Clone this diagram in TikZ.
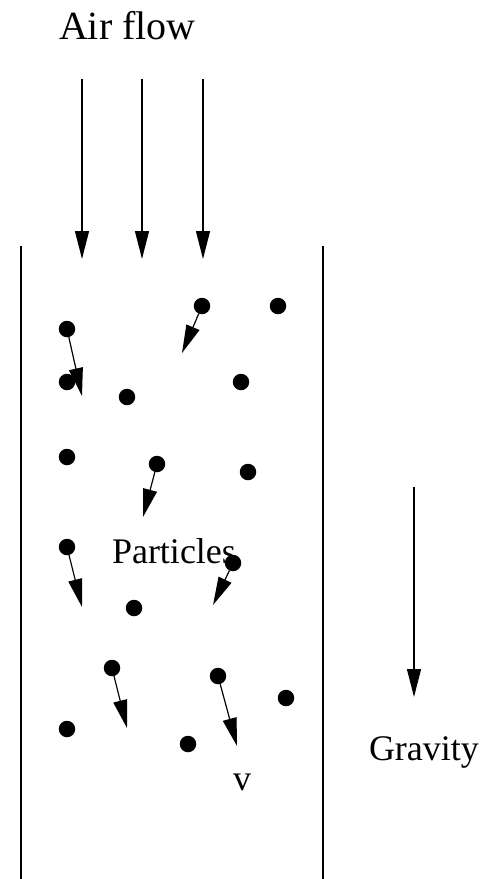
\documentclass[tikz,border=0pt]{standalone}
\usepackage{fontspec}
\setmainfont{Liberation Serif}
\usetikzlibrary{arrows.meta}

\begin{document}
\begin{tikzpicture}[
  x=1pt, y=-1pt,
  every node/.style={inner sep=0pt, outer sep=0pt},
  particle/.style={circle, fill=black, minimum size=16.5pt},
  big text/.style={font=\fontsize{40}{46}\selectfont, anchor=base west},
  small text/.style={font=\fontsize{36}{42}\selectfont, anchor=base west},
  vec/.style={line width=1.2pt, -{Triangle[length=28pt,width=14pt]}},
  wall/.style={line width=1.2pt}
]
\useasboundingbox (0,0) rectangle (483,879);

% labels
\node[big text] (airlabel) at (59,39) {Air flow};
\node[small text] (partlabel) at (112,563) {Particles};
\node[small text] (gravlabel) at (369,760) {Gravity};
\node[small text, anchor=base] (vlabel) at (242,790) {v};

% tube walls
\coordinate (lwtop) at (21,246);
\coordinate (lwbot) at (21,879);
\coordinate (rwtop) at (323,246);
\coordinate (rwbot) at (323,879);
\draw[wall] (lwtop) -- (lwbot);
\draw[wall] (rwtop) -- (rwbot);

% air flow
\coordinate (a1) at (82,79);   \coordinate (b1) at (82,259);
\coordinate (a2) at (142,79);  \coordinate (b2) at (142,259);
\coordinate (a3) at (203,79);  \coordinate (b3) at (203,259);
\draw[vec] (a1) -- (b1);
\draw[vec] (a2) -- (b2);
\draw[vec] (a3) -- (b3);

% gravity
\coordinate (ga) at (414,487);
\coordinate (gb) at (414,697);
\draw[vec] (ga) -- (gb);

% particles
\node[particle] (p1) at (67,329) {};
\node[particle] (p2) at (202,306) {};
\node[particle] (p3) at (278,306) {};
\node[particle] (p4) at (67,382) {};
\node[particle] (p5) at (127,397) {};
\node[particle] (p6) at (241,382) {};
\node[particle] (p7) at (67,457) {};
\node[particle] (p8) at (157,464) {};
\node[particle] (p9) at (248,472) {};
\node[particle] (p10) at (67,547) {};
\node[particle] (p11) at (233,563) {};
\node[particle] (p12) at (134,608) {};
\node[particle] (p13) at (112,668) {};
\node[particle] (p14) at (218,676) {};
\node[particle] (p15) at (286,698) {};
\node[particle] (p16) at (67,729) {};
\node[particle] (p17) at (188,744) {};

% velocities
\coordinate (t1) at (82,396);
\coordinate (t2) at (182,353);
\coordinate (t8) at (143,517);
\coordinate (t10) at (82,607);
\coordinate (t11) at (213,605);
\coordinate (t13) at (127,728);
\coordinate (t14) at (237,746);
\draw[vec] (p1) -- (t1);
\draw[vec] (p2) -- (t2);
\draw[vec] (p8) -- (t8);
\draw[vec] (p10) -- (t10);
\draw[vec] (p11) -- (t11);
\draw[vec] (p13) -- (t13);
\draw[vec] (p14) -- (t14);
\end{tikzpicture}
\end{document}
